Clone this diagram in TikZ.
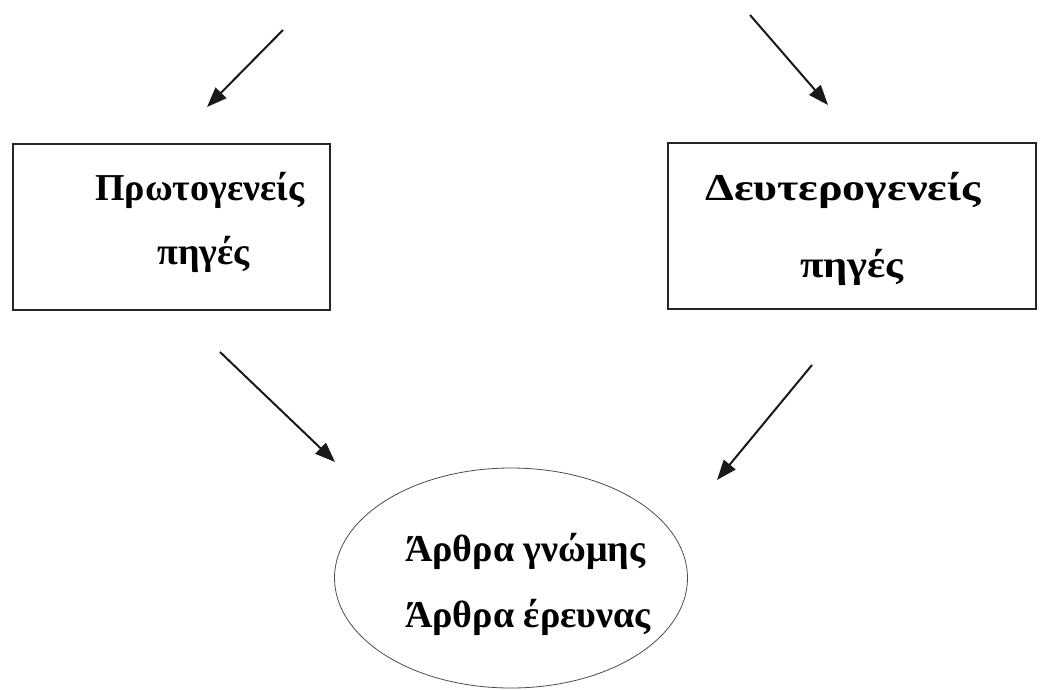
\documentclass[tikz,border=0pt]{standalone}
\usepackage{fontspec}
\setmainfont{Liberation Serif}
\usetikzlibrary{arrows.meta,shapes.geometric}

\begin{document}
\begin{tikzpicture}[x=1pt,y=-1pt,
  srcbox/.style={draw=black!85,line width=1.8pt,minimum width=317pt,minimum height=166pt},
  arrw/.style={-{Triangle[length=20pt,width=15pt]},line width=2pt,black!90},
  lbl/.style={anchor=base west,inner sep=0pt,font=\fontsize{38}{40}\selectfont\bfseries}]
\useasboundingbox (0,0) rectangle (1061,689);
\node (prim) at (171.5,227) [srcbox] {};
\node (sec) at (852,226) [srcbox,minimum width=368pt] {};
\node (art) at (511,578) [ellipse,draw=black!70,line width=0.8pt,minimum width=353pt,minimum height=220pt] {};
\node (primA) at (95,200) [lbl] {Πρωτογενείς};
\node (primB) at (157,264) [lbl] {πηγές};
\node (secA) at (705,200) [lbl] {\scalebox{1.21}[1]{Δευτερογενείς}};
\node (secB) at (800,277) [lbl] {\scalebox{1.12}[1]{πηγές}};
\node (artA) at (405,561) [lbl] {Άρθρα γνώμης};
\node (artB) at (405,627) [lbl] {Άρθρα έρευνας};
\coordinate (p1) at (283,30);
\coordinate (q1) at (207,107);
\coordinate (p2) at (750,15);
\coordinate (q2) at (828,105);
\coordinate (p3) at (220,352);
\coordinate (q3) at (335,462);
\coordinate (p4) at (812,365);
\coordinate (q4) at (717,480);
\draw[arrw] (p1)--(q1);
\draw[arrw] (p2)--(q2);
\draw[arrw] (p3)--(q3);
\draw[arrw] (p4)--(q4);
\end{tikzpicture}
\end{document}
